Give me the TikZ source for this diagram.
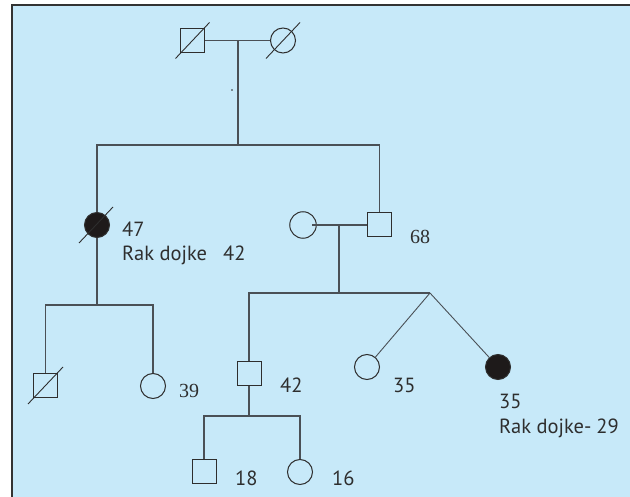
\documentclass[tikz,border=0pt]{standalone}
\usepackage{fontspec}
\setmainfont{PT Sans}
\newfontfamily\serifnum{Liberation Serif}
\definecolor{bgblue}{HTML}{C7E9F9}
\definecolor{linec}{HTML}{4A5056}
\definecolor{shapec}{HTML}{2E2E2E}
\definecolor{fillc}{HTML}{1E1A1A}
\definecolor{framec}{HTML}{333333}
\begin{document}
\begin{tikzpicture}[x=1pt,y=-1pt,
  conn/.style={draw=linec,line width=1.1pt},
  male/.style={draw=shapec,rectangle,minimum size=24pt,inner sep=0pt,line width=1pt},
  female/.style={draw=shapec,circle,minimum size=25pt,inner sep=0pt,line width=1pt},
  affected/.style={fill=fillc},
  slash/.style={draw=shapec,line width=0.9pt},
  lbl/.style={anchor=base west,inner sep=0pt,font=\fontsize{20.5}{22}\selectfont,text=shapec}]
\useasboundingbox (0,0) rectangle (630,497);
\fill[bgblue] (12,5) rectangle (630,497);
\draw[framec,line width=1.6pt] (12,497) -- (12,5) -- (630,5);

% generation I
\node[male] (gm) at (192.5,40.5) {};
\node[female] (gf) at (283,40.5) {};
\draw[slash] ([shift={(-17,18)}]gm.center) -- ([shift={(17,-18)}]gm.center);
\draw[slash] ([shift={(-17,18)}]gf.center) -- ([shift={(17,-18)}]gf.center);
\coordinate (m1) at (238,40.5);
\coordinate (s1) at (238,145);
\draw[conn] (gm.east) -- (gf.west);
\draw[conn] (m1) -- (s1);
\fill[shapec] (232,90) circle (0.9pt);

% generation II
\node[female,affected] (aunt) at (97,225) {};
\node[male] (f68) at (379.5,225) {};
\node[female,minimum width=26.5pt] (sp) at (303,225) {};
\draw[slash] ([shift={(-18,18)}]aunt.center) -- ([shift={(16,-18)}]aunt.center);
\draw[conn] (aunt.north) |- (s1);
\draw[conn] (f68.north) |- (s1);
\node[lbl] (t47) at (122,237) {47};
\node[lbl] (trak1) at (122,261) {Rak dojke\hspace{16pt}42};
\node[lbl,font=\fontsize{20}{22}\serifnum] (t68) at (410,244) {68};
\coordinate (sp0) at (312,225);
\draw[conn] (sp0) -- (f68.west);
\coordinate (m2) at (339,225);
\coordinate (s2) at (339,293);
\draw[conn] (m2) -- (s2);

% aunt's children
\coordinate (c2) at (97,305);
\node[male] (bl) at (45.5,385.5) {};
\node[female,minimum width=23.5pt] (g39) at (153,386) {};
\draw[slash] ([shift={(-17.5,18.5)}]bl.center) -- ([shift={(17.5,-18.5)}]bl.center);
\draw[conn] (aunt.south) -- (c2);
\draw[conn] (bl.north) |- (c2);
\draw[conn] (c2) -| (g39.north);
\node[lbl,font=\fontsize{20}{22}\serifnum] (t39) at (179,398) {39};

% generation III
\node[male] (s42) at (249,373.5) {};
\node[female] (tw1) at (367,367) {};
\node[female,affected] (tw2) at (498,367) {};
\coordinate (tw) at (430,293);
\draw[conn] (s42.north) |- (s2);
\draw[conn] (s2) -- (tw);
\draw[conn,line width=0.9pt] (tw) -- (tw1);
\draw[conn,line width=0.9pt] (tw) -- (tw2);
\node[lbl] (t42) at (280,393) {42};
\node[lbl] (t35a) at (393,393) {35};
\node[lbl] (t35b) at (499,409) {35};
\node[lbl] (trak2) at (499,433) {Rak dojke-\hspace{5pt}29};

% generation IV
\coordinate (c3) at (249,416);
\node[male] (b18) at (204,471.5) {};
\node[female] (g16) at (300,472) {};
\draw[conn] (s42.south) -- (c3);
\draw[conn] (b18.north) |- (c3);
\draw[conn] (c3) -| (g16.north);
\node[lbl] (t18) at (235,485) {18};
\node[lbl] (t16) at (332,485) {16};
\end{tikzpicture}
\end{document}
